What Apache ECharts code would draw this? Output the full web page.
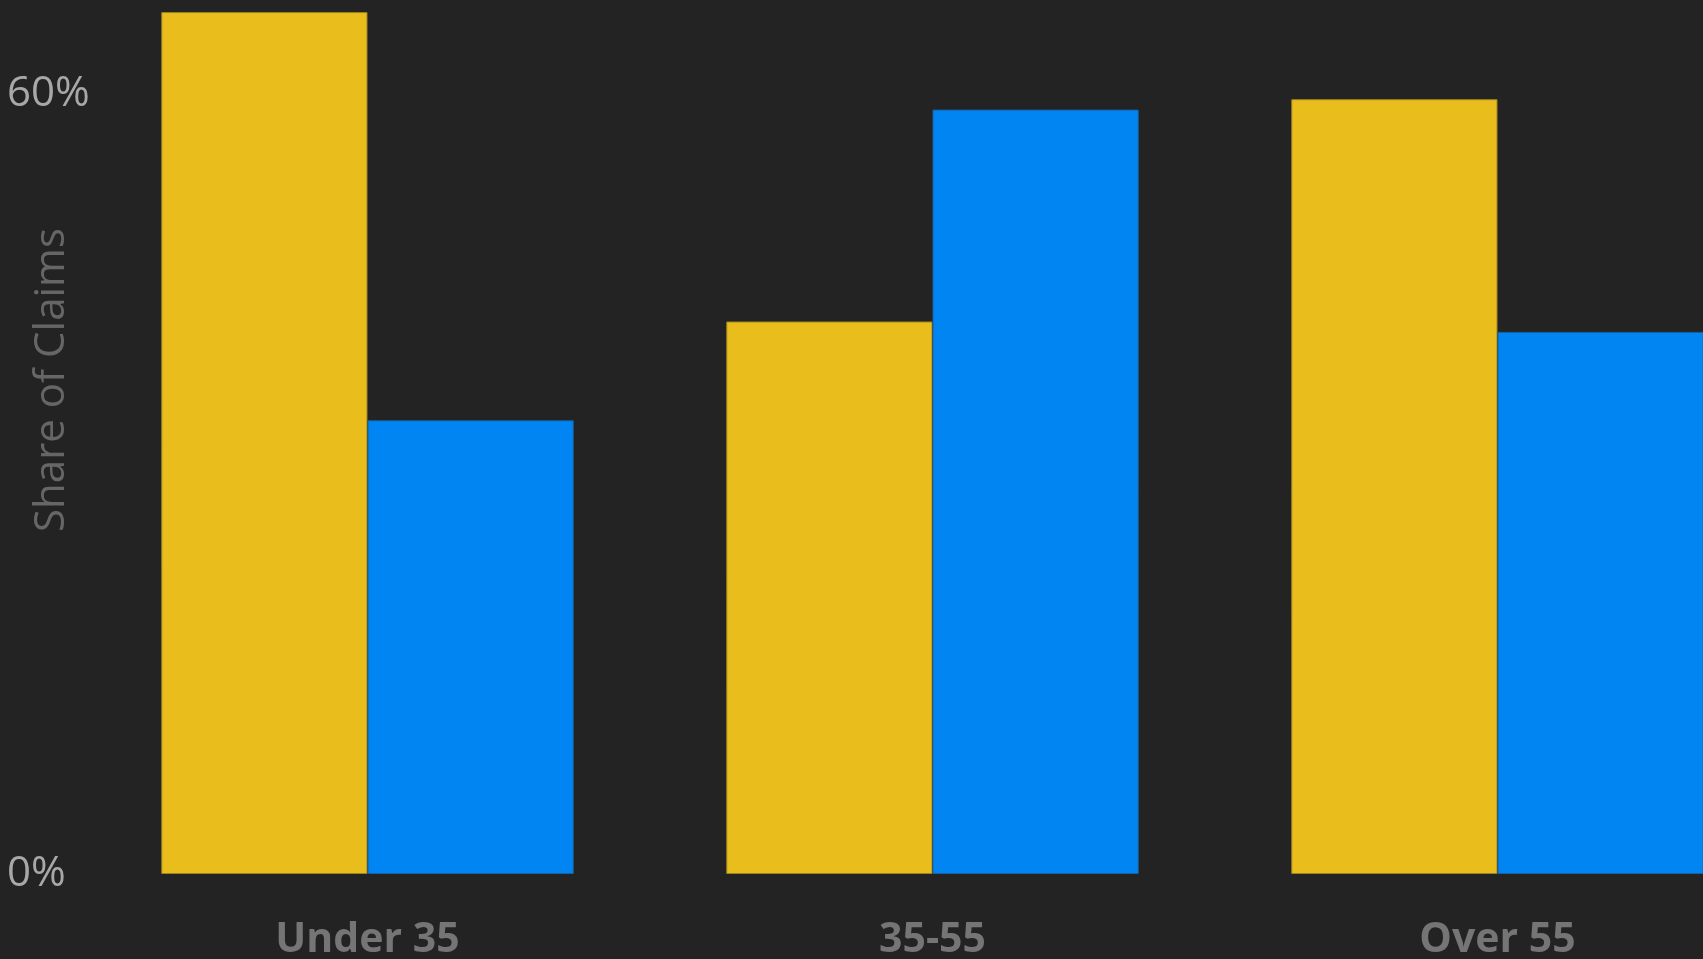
<!DOCTYPE html>
<html>
<head>
<meta charset="utf-8">
<script src="https://cdn.jsdelivr.net/npm/echarts@6/dist/echarts.min.js"></script>
<style>
html,body{margin:0;padding:0;background:#232323;}
#chart{width:1703px;height:959px;}
</style>
</head>
<body>
<div id="chart"></div>
<script>
const categories = ['Under 35', '35-55', 'Over 55'];
const seriesYellow = [66.3, 42.5, 59.6];
const seriesBlue = [34.9, 58.8, 41.7];
const tickLabels = [0, 60];

const chart = echarts.init(document.getElementById('chart'));
chart.setOption({
  backgroundColor: '#232323',
  animation: false,
  grid: { left: 85, right: -77, top: 0, bottom: 85, containLabel: false, outerBoundsMode: 'none' },
  xAxis: {
    type: 'category',
    data: categories,
    axisLine: { show: false },
    axisTick: { show: false },
    axisLabel: {
      color: '#757575',
      fontFamily: 'Open Sans',
      fontWeight: 'bold',
      fontSize: 41,
      margin: 46
    }
  },
  yAxis: {
    type: 'value',
    min: 0,
    max: 67.23,
    interval: 60,
    name: 'Share of Claims',
    nameLocation: 'middle',
    nameGap: 12,
    nameRotate: 90,
    nameMoveOverlap: false,
    nameTextStyle: { color: '#666666', fontFamily: 'Open Sans', fontSize: 42, padding: [0, 0, 0, 114] },
    splitLine: { show: false },
    axisLine: { show: false },
    axisTick: { show: false },
    axisLabel: {
      color: '#a8a8a8',
      fontFamily: 'Open Sans',
      fontSize: 42,
      align: 'left',
      margin: 78,
      formatter: v => tickLabels.includes(Math.round(v * 1000) / 1000) ? v + '%' : ''
    }
  },
  series: [
    {
      name: 'Group A', type: 'bar', data: seriesYellow,
      barGap: '0%', barCategoryGap: '27%',
      itemStyle: { color: '#E9BD1B', borderColor: '#9c8420', borderWidth: 1 }
    },
    {
      name: 'Group B', type: 'bar', data: seriesBlue,
      itemStyle: { color: '#0085F2', borderColor: '#1a5f9e', borderWidth: 1 }
    }
  ]
});
</script>
</body>
</html>
